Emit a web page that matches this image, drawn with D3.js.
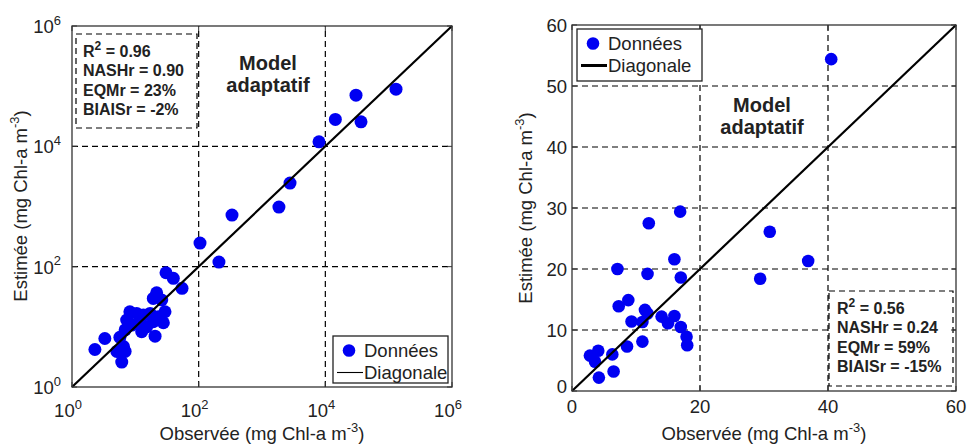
<!DOCTYPE html>
<html>
<head>
<meta charset="utf-8">
<script src="https://cdn.jsdelivr.net/npm/d3@7"></script>
<style>
  html, body { margin: 0; padding: 0; background: #fff; }
  svg { display: block; font-family: "Liberation Sans", Arial, Helvetica, sans-serif; }
</style>
</head>
<body>
<svg id="chart" width="967" height="447"></svg>
<script>
// ---- Left panel (log-log) ----
const logObs = [130600, 30500, 14400, 36600, 7940,
  2770, 1850, 336, 105, 209,
  30.5, 39.8, 54.6, 21.7, 19.2, 26.1, 8.2, 10.5, 13.4, 17.1, 29.4, 23.1, 27.7, 7.3,
  8.8, 11.9, 15.1, 19.2, 6.9, 12.6, 20.5, 5.7, 3.3, 2.3, 6.5, 5.1, 6.9, 6.1];
const logEst = [89100, 70800, 28000, 25500, 11900,
  2450, 977, 719, 247, 119,
  79.3, 64.0, 43.7, 36.8, 29.7, 27.9, 17.8, 16.7, 15.7, 16.7, 17.8, 14.7, 11.7, 13.0,
  10.7, 12.2, 10.0, 12.2, 8.9, 8.3, 7.0, 6.7, 6.4, 4.2, 4.7, 3.9, 3.9, 2.6];
const logTicks = [1, 100, 10000, 1000000];
const logExponents = ["0", "2", "4", "6"];
const logStats = [["R", "2", " = 0.96"], ["NASHr = 0.90"], ["EQMr = 23%"], ["BIAISr = -2%"]];

// ---- Right panel (linear) ----
const linObs = [16.9, 12.0, 16.0, 7.1, 11.8, 17.0, 7.3, 8.8, 11.4, 11.8, 9.3, 11.0, 14.0, 15.0,
  16.0, 17.0, 17.9, 18.0, 11.0, 8.6, 6.3, 2.8, 4.1, 3.6, 6.5, 4.2, 30.9, 36.9, 29.4, 40.5];
const linEst = [29.4, 27.5, 21.6, 20.0, 19.2, 18.6, 13.9, 14.9, 13.3, 12.7, 11.4, 11.3, 12.2, 11.1,
  12.3, 10.5, 8.9, 7.5, 8.1, 7.3, 6.0, 5.8, 6.6, 4.8, 3.2, 2.2, 26.1, 21.3, 18.4, 54.4];
const linTicksX = [0, 20, 40, 60];
const linTicksY = [0, 10, 20, 30, 40, 50, 60];
const linStats = [["R", "2", " = 0.56"], ["NASHr = 0.24"], ["EQMr = 59%"], ["BIAISr = -15%"]];

const legendLabels = ["Données", "Diagonale"];
const modelLabel = ["Model", "adaptatif"];
const xTitle = "Observée (mg Chl-a m";
const yTitle = "Estimée (mg Chl-a m";

const svg = d3.select("#chart");
const ink = "#222";
const dotColor = "#0000f2";

function dashedGrid(g, x, y, xs, ys) {
  const [x0, x1] = x.range(), [y0, y1] = y.range();
  g.selectAll(null).data(xs).join("line")
    .attr("x1", d => x(d)).attr("x2", d => x(d)).attr("y1", y0).attr("y2", y1)
    .attr("stroke", "#000").attr("stroke-width", 1.2).attr("stroke-dasharray", "6,4");
  g.selectAll(null).data(ys).join("line")
    .attr("y1", d => y(d)).attr("y2", d => y(d)).attr("x1", x0).attr("x2", x1)
    .attr("stroke", "#000").attr("stroke-width", 1.2).attr("stroke-dasharray", "6,4");
}

function frame(g, x, y, xs, ys) {
  const [x0, x1] = x.range(), [y0, y1] = y.range();
  g.append("rect").attr("x", x0).attr("y", y1).attr("width", x1 - x0).attr("height", y0 - y1)
    .attr("fill", "none").attr("stroke", "#333").attr("stroke-width", 1.3);
  const t = 5;
  xs.forEach(v => {
    g.append("line").attr("x1", x(v)).attr("x2", x(v)).attr("y1", y0).attr("y2", y0 - t).attr("stroke", "#333");
    g.append("line").attr("x1", x(v)).attr("x2", x(v)).attr("y1", y1).attr("y2", y1 + t).attr("stroke", "#333");
  });
  ys.forEach(v => {
    g.append("line").attr("y1", y(v)).attr("y2", y(v)).attr("x1", x0).attr("x2", x0 + t).attr("stroke", "#333");
    g.append("line").attr("y1", y(v)).attr("y2", y(v)).attr("x1", x1).attr("x2", x1 - t).attr("stroke", "#333");
  });
}

function supText(g, x, y, base, sup, anchor, size) {
  const t = g.append("text").attr("x", x).attr("y", y).attr("text-anchor", anchor)
    .attr("fill", ink).attr("font-size", size);
  t.append("tspan").text(base);
  t.append("tspan").attr("dy", -size * 0.45).attr("font-size", size * 0.7).text(sup);
  return t;
}

function statsBox(g, x0, y0, w, h, lines, tx, ty) {
  g.append("rect").attr("x", x0).attr("y", y0).attr("width", w).attr("height", h)
    .attr("fill", "#fff").attr("stroke", "#000").attr("stroke-width", 1.2).attr("stroke-dasharray", "6,4");
  lines.forEach((ln, i) => {
    const t = g.append("text").attr("x", tx).attr("y", ty + i * 19.3)
      .attr("font-size", 16).attr("font-weight", "bold").attr("fill", ink);
    if (ln.length === 3) {
      t.append("tspan").text(ln[0]);
      t.append("tspan").attr("dy", -7).attr("font-size", 12).text(ln[1]);
      t.append("tspan").attr("dy", 7).text(ln[2]);
    } else {
      t.text(ln[0]);
    }
  });
}

function modelText(g, cx, y) {
  modelLabel.forEach((s, i) => {
    g.append("text").attr("x", cx).attr("y", y + i * 22).attr("text-anchor", "middle")
      .attr("font-size", 20).attr("font-weight", "bold").attr("fill", ink).text(s);
  });
}

function legend(g, x0, y0, w, h, lineW) {
  g.append("rect").attr("x", x0).attr("y", y0).attr("width", w).attr("height", h)
    .attr("fill", "#fff").attr("stroke", "#222").attr("stroke-width", 1.3);
  g.append("circle").attr("cx", x0 + 16).attr("cy", y0 + 14.5).attr("r", 6.3).attr("fill", dotColor);
  g.append("text").attr("x", x0 + 31).attr("y", y0 + 21).attr("font-size", 18.5).attr("fill", ink).text(legendLabels[0]);
  g.append("line").attr("x1", x0 + 4).attr("x2", x0 + 30).attr("y1", y0 + 36.5).attr("y2", y0 + 36.5)
    .attr("stroke", "#000").attr("stroke-width", lineW);
  g.append("text").attr("x", x0 + 31).attr("y", y0 + 43).attr("font-size", 18.5).attr("fill", ink).text(legendLabels[1]);
}

function titles(g, cx, cyX, xTitleX, cyY) {
  supText(g, cx, cyX, xTitle, "-3", "middle", 18.5).append("tspan").attr("dy", 18.5 * 0.45).text(")");
  const gy = g.append("g").attr("transform", `translate(${xTitleX},${cyY}) rotate(-90)`);
  supText(gy, 0, 0, yTitle, "-3", "middle", 18.5).append("tspan").attr("dy", 18.5 * 0.45).text(")");
}

// ===== Left panel =====
{
  const x = d3.scaleLog().domain([1, 1e6]).range([72, 452]);
  const y = d3.scaleLog().domain([1, 1e6]).range([387, 26]);
  const g = svg.append("g");
  dashedGrid(g, x, y, [100, 10000], [100, 10000]);
  statsBox(g, 76, 34, 121, 94, logStats, 83, 57);
  modelText(g, 268, 70);
  g.selectAll(null).data(logObs).join("circle")
    .attr("cx", d => x(d)).attr("cy", (d, i) => y(logEst[i])).attr("r", 6.5).attr("fill", dotColor);
  g.append("line").attr("x1", x(1)).attr("y1", y(1)).attr("x2", x(1e6)).attr("y2", y(1e6))
    .attr("stroke", "#000").attr("stroke-width", 2.2);
  frame(g, x, y, logTicks, logTicks);
  legend(g, 333, 336, 115, 47, 1.1);
  logTicks.forEach((v, i) => {
    supText(g, x(v) - 4, 417, "10", logExponents[i], "middle", 18.5);
    supText(g, 61, y(v) + 7, "10", logExponents[i], "end", 18.5);
  });
  titles(g, 262, 440, 27, 206);
}

// ===== Right panel =====
{
  const x = d3.scaleLinear().domain([0, 60]).range([572, 956]);
  const y = d3.scaleLinear().domain([0, 60]).range([391, 25]);
  const g = svg.append("g");
  dashedGrid(g, x, y, [20, 40], [10, 20, 30, 40, 50]);
  statsBox(g, 829, 291, 124, 95, linStats, 837, 314);
  modelText(g, 762, 112);
  g.selectAll(null).data(linObs).join("circle")
    .attr("cx", d => x(d)).attr("cy", (d, i) => y(linEst[i])).attr("r", 6.3).attr("fill", dotColor);
  g.append("line").attr("x1", x(0)).attr("y1", y(0)).attr("x2", x(60)).attr("y2", y(60))
    .attr("stroke", "#000").attr("stroke-width", 2.2);
  frame(g, x, y, linTicksX, linTicksY);
  legend(g, 577, 29, 125, 52, 3);
  linTicksX.forEach(v => {
    g.append("text").attr("x", x(v)).attr("y", 413).attr("text-anchor", "middle")
      .attr("font-size", 18.5).attr("fill", ink).text(v);
  });
  linTicksY.forEach(v => {
    g.append("text").attr("x", 567).attr("y", y(v) + (v === 0 ? 2 : 7)).attr("text-anchor", "end")
      .attr("font-size", 18.5).attr("fill", ink).text(v);
  });
  titles(g, 764, 440, 532, 208);
}
</script>
</body>
</html>
